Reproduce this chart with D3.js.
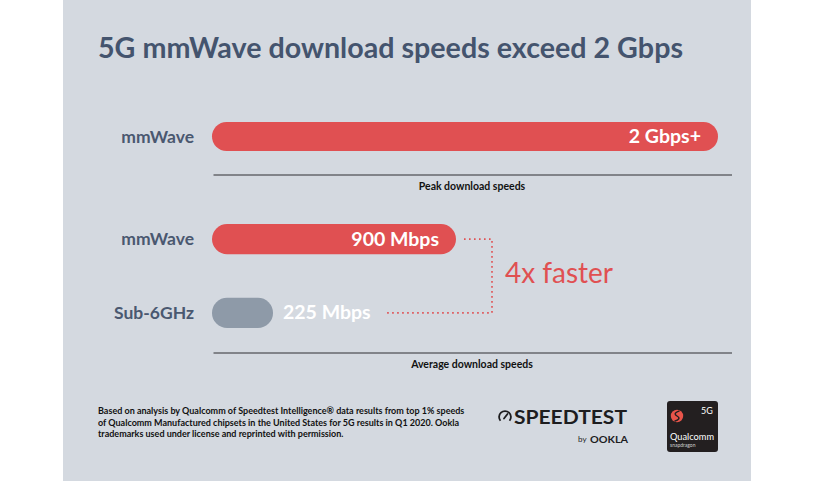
<!DOCTYPE html>
<html>
<head>
<meta charset="utf-8">
<script src="https://cdn.jsdelivr.net/npm/d3@7"></script>
<style>
  html, body { margin: 0; padding: 0; background: #fff; }
  svg { display: block; font-family: Lato, "Open Sans", sans-serif; }
</style>
</head>
<body>
<svg id="chart" width="814" height="481"></svg>
<script>
// peak vs average 5G download speeds, two small bar panels
const TITLE = "5G mmWave download speeds exceed 2 Gbps";
const PEAK_CATS = ["mmWave"];
const PEAK_VALUES = [2000];
const PEAK_LABELS = ["2 Gbps+"];
const AVG_CATS = ["mmWave", "Sub-6GHz"];
const AVG_VALUES = [900, 225];
const AVG_LABELS = ["900 Mbps", "225 Mbps"];
const AXIS_TITLES = ["Peak download speeds", "Average download speeds"];
const FOOTNOTE = [
  "Based on analysis by Qualcomm of Speedtest Intelligence\u00ae data results from top 1% speeds",
  "of Qualcomm Manufactured chipsets in the United States for 5G results in Q1 2020. Ookla",
  "trademarks used under license and reprinted with permission."
];

const RED = "#e05052", GREY = "#8e9aa8", BG = "#d4d9e0",
      INK = "#44546e", LABEL = "#4a5870";

const svg = d3.select("#chart");
svg.append("rect").attr("x", 63).attr("y", 0).attr("width", 688).attr("height", 481)
  .attr("fill", BG);

svg.append("text").attr("x", 98).attr("y", 58)
  .attr("font-size", 28).attr("font-weight", 700).attr("fill", INK)
  .attr("textLength", 585).attr("lengthAdjust", "spacingAndGlyphs")
  .text(TITLE);

// one panel: band scale for rows, linear scale for bar length
function panel(cats, values, labels, xRange, yRange, pad, barColors, inside) {
  const x = d3.scaleLinear([0, d3.max(values)], xRange);
  const y = d3.scaleBand(cats, yRange).paddingInner(pad).paddingOuter(0);
  const g = svg.append("g");
  const h = y.bandwidth();
  g.selectAll("rect.bar").data(values).join("rect")
    .attr("class", "bar")
    .attr("x", x(0)).attr("y", (d, i) => y(cats[i]))
    .attr("width", (d) => x(d) - x(0)).attr("height", h)
    .attr("rx", h / 2).attr("fill", (d, i) => barColors[i]);
  g.selectAll("text.cat").data(cats).join("text")
    .attr("class", "cat")
    .attr("x", 194).attr("y", (c) => y(c) + h / 2 + 6)
    .attr("text-anchor", "end").attr("font-size", 17.5).attr("font-weight", 700)
    .attr("fill", LABEL).text((c) => c);
  const vals = g.selectAll("text.val").data(values).join("text")
    .attr("class", "val")
    .attr("x", (d, i) => inside[i] ? x(d) - 17 : x(d) + 10)
    .attr("y", (d, i) => y(cats[i]) + h / 2 + 6.5)
    .attr("text-anchor", (d, i) => inside[i] ? "end" : "start")
    .attr("font-size", 19.5).attr("font-weight", 700).attr("fill", "#fff")
    .text((d, i) => labels[i]);
  return {x, y, h, vals};
}

const peak = panel(PEAK_CATS, PEAK_VALUES, PEAK_LABELS, [212, 718], [122, 151], 0,
                   [RED], [true]);
const avg = panel(AVG_CATS, AVG_VALUES, AVG_LABELS, [212, 456], [224, 328], 0.59,
                  [RED, GREY], [true, false]);

// baselines + captions
[[175, AXIS_TITLES[0]], [353, AXIS_TITLES[1]]].forEach(([yy, t]) => {
  svg.append("line").attr("x1", 213.5).attr("x2", 732).attr("y1", yy).attr("y2", yy)
    .attr("stroke", "#2f2f33").attr("stroke-width", 1);
  svg.append("text").attr("x", 472).attr("y", yy + 15).attr("text-anchor", "middle")
    .attr("font-size", 10.5).attr("font-weight", 700).attr("fill", "#111").text(t);
});

// dotted connector between the two average bars
const y0 = avg.y(AVG_CATS[0]) + avg.h / 2, y1 = avg.y(AVG_CATS[1]) + avg.h / 2;
const xa = avg.x(AVG_VALUES[0]) + 8, xb = avg.x(AVG_VALUES[0]) + 36;
const lbl = avg.vals.nodes()[1];
const xc = +lbl.getAttribute("x") + lbl.getComputedTextLength() + 14;
svg.append("path")
  .attr("d", d3.line()([[xa, y0], [xb, y0], [xb, y1], [xc, y1]]))
  .attr("fill", "none").attr("stroke", RED).attr("stroke-width", 1.6)
  .attr("stroke-dasharray", "1.6 3.4");
svg.append("text").attr("x", xb + 13).attr("y", 283)
  .attr("font-size", 28).attr("font-weight", 400).attr("fill", RED)
  .text(`${AVG_VALUES[0] / AVG_VALUES[1]}x faster`);

// footnote
svg.append("g").selectAll("text").data(FOOTNOTE).join("text")
  .attr("x", 98).attr("y", (d, i) => 414 + i * 11.5)
  .attr("font-size", 9).attr("font-weight", 700).attr("fill", "#111")
  .text((d) => d);

// Speedtest by Ookla mark
const st = svg.append("g");
st.append("path")
  .attr("d", d3.arc()({innerRadius: 5, outerRadius: 6.8,
                      startAngle: -Math.PI * 0.72, endAngle: Math.PI * 0.72}))
  .attr("transform", "translate(505,417)").attr("fill", "#1d1d1f");
st.append("line").attr("x1", 504).attr("y1", 418.5).attr("x2", 507.5).attr("y2", 414)
  .attr("stroke", "#1d1d1f").attr("stroke-width", 1.8).attr("stroke-linecap", "round");
st.append("text").attr("x", 514).attr("y", 423.5)
  .attr("font-size", 18).attr("font-weight", 700).attr("fill", "#1d1d1f")
  .attr("textLength", 113).attr("lengthAdjust", "spacingAndGlyphs").text("SPEEDTEST");
st.append("text").attr("x", 578).attr("y", 442)
  .attr("font-size", 8).attr("fill", "#1d1d1f").text("by");
st.append("text").attr("x", 590).attr("y", 442.5)
  .attr("font-size", 10).attr("font-weight", 700).attr("fill", "#1d1d1f")
  .attr("textLength", 38).attr("lengthAdjust", "spacingAndGlyphs").text("OOKLA");

// Qualcomm Snapdragon badge
const qc = svg.append("g");
qc.append("rect").attr("x", 667).attr("y", 401).attr("width", 51).attr("height", 51)
  .attr("rx", 3).attr("fill", "#231f20");
qc.append("circle").attr("cx", 677).attr("cy", 416).attr("r", 6.2).attr("fill", "#e8544a");
qc.append("path").attr("d", "M679.5,410.8 C675.5,412 673.5,414 677,416 C680.5,418 679,420 674.5,421.2")
  .attr("fill", "none").attr("stroke", "#231f20").attr("stroke-width", 1.4);
qc.append("text").attr("x", 701).attr("y", 414).attr("font-size", 9)
  .attr("fill", "#fff").text("5G");
qc.append("text").attr("x", 670).attr("y", 440).attr("font-size", 8.5)
  .attr("fill", "#fff").attr("textLength", 44).attr("lengthAdjust", "spacingAndGlyphs")
  .text("Qualcomm");
qc.append("text").attr("x", 670).attr("y", 446.5).attr("font-size", 5)
  .attr("fill", "#cfcfcf").text("snapdragon");
</script>
</body>
</html>
